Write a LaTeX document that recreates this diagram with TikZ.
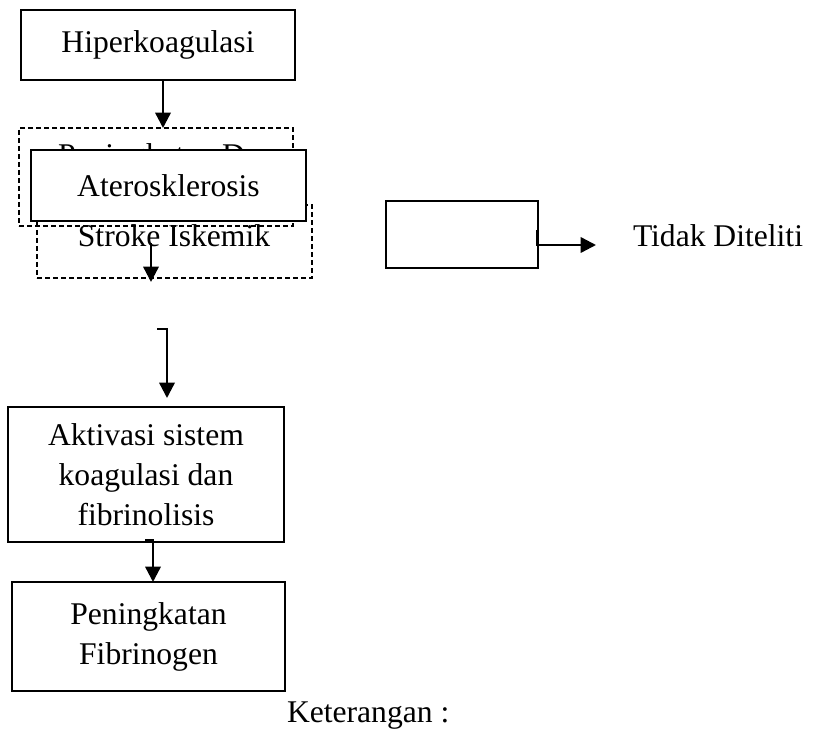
\documentclass[tikz,border=0pt]{standalone}
\usepackage{fontspec}
\setmainfont{Liberation Serif}
\usetikzlibrary{arrows.meta}
\begin{document}
\begin{tikzpicture}[x=0.75pt,y=-0.75pt,
  every node/.style={font=\fontsize{23.7}{30}\selectfont, inner sep=0pt, outer sep=0pt},
  solidbox/.style={draw, line width=1.9pt, fill=white, align=center},
  thinbox/.style={draw, line width=1pt},
  dashbox/.style={draw, line width=1.4pt, dash pattern=on 3.6pt off 2.4pt},
  arr/.style={line width=1.8pt, -{Triangle[width=11.5pt,length=11.5pt]}}]
\useasboundingbox (0,0) rectangle (823,730);
% dashed boxes (behind)
\node[dashbox, minimum width=205.5pt, minimum height=73.5pt] (db1) at (156,177) {};
\node[anchor=base west] (db1t) at (58,166) {Peningkatan D};
\node[dashbox, minimum width=206.25pt, minimum height=54.75pt] (db2) at (174.5,241.5) {};
\node[anchor=base] (db2t) at (174,247) {Stroke Iskemik};
% solid boxes
\node[solidbox, minimum width=205.5pt, minimum height=52.5pt] (hip) at (158,45) {Hiperkoagulasi};
\node[solidbox, minimum width=206.25pt, minimum height=53.25pt] (ater) at (168.5,185.5) {Aterosklerosis};
\node[solidbox, minimum width=207pt, minimum height=101.25pt] (akt) at (146,474.5) {Aktivasi sistem\\koagulasi dan\\fibrinolisis};
\node[solidbox, minimum width=204.75pt, minimum height=81.75pt] (pen) at (148.5,636.5) {Peningkatan\\Fibrinogen};
% legend
\node[thinbox, minimum width=114pt, minimum height=50.25pt] (rbox) at (462,234.5) {};
\node[anchor=base west] (tdk) at (633,247) {Tidak Diteliti};
\node[anchor=base west] (ket) at (287,722) {Keterangan :};
% coordinates
\coordinate (s1) at (151,243);
\coordinate (s2) at (151,282);
\coordinate (e1) at (157,329);
\coordinate (e2) at (167,398);
\coordinate (k1) at (145,540);
\coordinate (r1) at (537,230);
\coordinate (r2) at (596,245);
% connectors
\draw[arr] (hip.south -| 163,0) -- (db1.north -| 163,0);
\draw[arr] (s1) -- (s2);
\draw[arr] (e1) -| (e2);
\draw[arr] (k1) -| (pen.north -| 153,0);
\draw[arr] (r1) |- (r2);
\end{tikzpicture}
\end{document}
